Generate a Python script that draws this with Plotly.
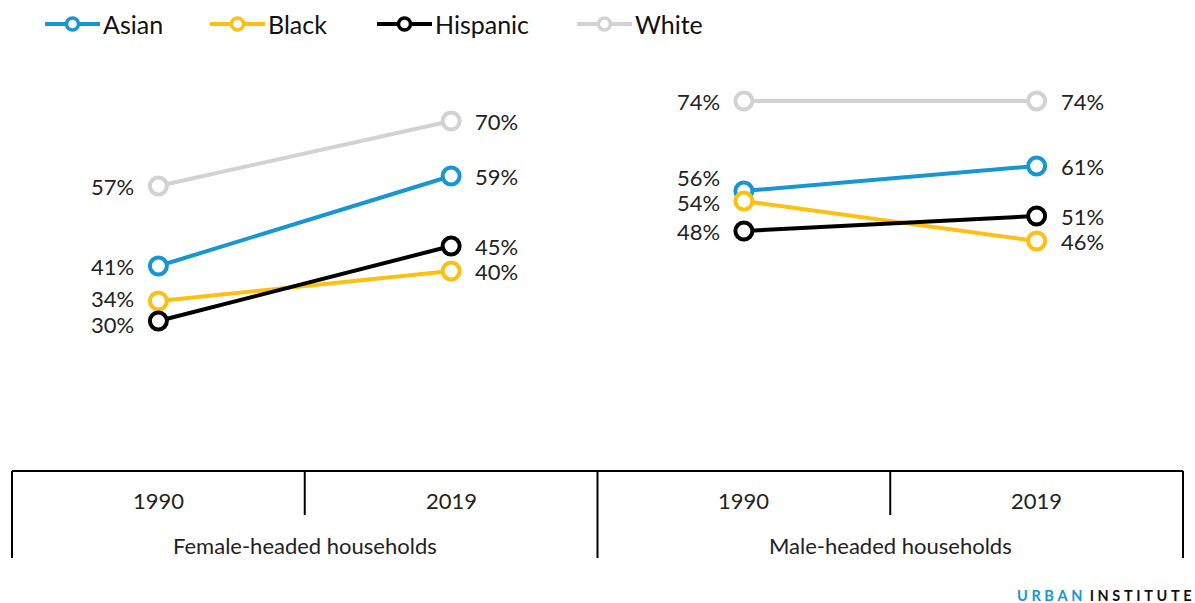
import plotly.graph_objects as go

# Share of households (percent) by race/ethnicity of householder
groups = ["Female-headed households", "Male-headed households"]
years = ["1990", "2019"]
series_names = ["Asian", "Black", "Hispanic", "White"]
colors = ["#1696d2", "#fdbf11", "#000000", "#d2d2d2"]

asian = [41, 59, 56, 61]      # female 1990, female 2019, male 1990, male 2019
black = [34, 40, 54, 46]
hispanic = [30, 45, 48, 51]
white = [57, 70, 74, 74]
values = [asian, black, hispanic, white]

# vertical nudges (px) for labels that would otherwise collide
label_nudge = {("Asian", 2): 14, ("Black", 2): -1, ("Black", 0): 3, ("Hispanic", 0): -3}

FONT = "Lato"
W, H = 1195, 603
ML, MR, MT, MB = 12, 12, 71, 132
PH = H - MT - MB
PW = W - ML - MR


def py(px_y):
    """page pixel y -> paper y"""
    return (H - MB - px_y) / PH


def pxx(px_x):
    """page pixel x -> paper x"""
    return (px_x - ML) / PW


fig = go.Figure()

for name, col, vals in zip(series_names, colors, values):
    xs = [0, 1, None, 2, 3]
    ys = [vals[0], vals[1], None, vals[2], vals[3]]
    fig.add_trace(go.Scatter(
        x=xs, y=ys, mode="lines+markers", name=name,
        line=dict(color=col, width=4),
        marker=dict(symbol="circle", size=17, color="white",
                    line=dict(color=col, width=4)),
        cliponaxis=False, showlegend=False, hoverinfo="skip",
    ))

annotations = []
for name, vals in zip(series_names, values):
    for i, v in enumerate(vals):
        left = i % 2 == 0
        annotations.append(dict(
            x=i, y=v, xref="x", yref="y", text=f"{v}%", showarrow=False,
            xanchor="right" if left else "left", yanchor="middle",
            xshift=-23 if left else 23, yshift=label_nudge.get((name, i), 0),
            borderpad=0,
            font=dict(family=FONT, size=22, color="#222222"),
        ))

shapes = []
# category axis frame
shapes.append(dict(type="line", xref="paper", yref="paper", x0=0, x1=1, y0=0, y1=0,
                   line=dict(color="black", width=2)))
for xp in [0, 0.5, 1]:
    shapes.append(dict(type="line", xref="paper", yref="paper", x0=xp, x1=xp,
                       y0=0, y1=py(558), line=dict(color="black", width=2)))
for xp in [0.25, 0.75]:
    shapes.append(dict(type="line", xref="paper", yref="paper", x0=xp, x1=xp,
                       y0=0, y1=py(515), line=dict(color="black", width=2)))

for gi, g in enumerate(groups):
    annotations.append(dict(x=0.25 + 0.5 * gi, y=py(545), xref="paper", yref="paper",
                            text=g, showarrow=False, xanchor="center", yanchor="middle",
                            font=dict(family=FONT, size=22, color="#222222")))
    for yi, yr in enumerate(years):
        annotations.append(dict(x=0.125 + 0.5 * gi + 0.25 * yi, y=py(500),
                                xref="paper", yref="paper", text=yr, showarrow=False,
                                xanchor="center", yanchor="middle",
                                font=dict(family=FONT, size=22, color="#222222")))

# legend row
legend_x = [45, 210, 377, 577]
leg_y = py(24)
for name, col, lx in zip(series_names, colors, legend_x):
    shapes.append(dict(type="line", xref="paper", yref="paper",
                       x0=pxx(lx), x1=pxx(lx + 55), y0=leg_y, y1=leg_y,
                       line=dict(color=col, width=4)))
    shapes.append(dict(type="circle", xref="paper", yref="paper",
                       xsizemode="pixel", ysizemode="pixel",
                       xanchor=pxx(lx + 27.5), yanchor=leg_y,
                       x0=-6, x1=6, y0=-6, y1=6,
                       fillcolor="white", line=dict(color=col, width=3.5)))
    annotations.append(dict(x=pxx(lx + 56), y=leg_y, xref="paper", yref="paper",
                            text=name, showarrow=False, xanchor="left", yanchor="middle",
                            font=dict(family=FONT, size=25, color="#111111")))

# branding
ts = "\u2009\u2009"
annotations.append(dict(
    x=pxx(1194), y=py(595), xref="paper", yref="paper", showarrow=False,
    xanchor="right", yanchor="middle",
    text=("<b><span style='color:#1696d2'>" + ts.join("URBAN") + "</span>\u2002"
          + ts.join("INSTITUTE") + "</b>"),
    font=dict(family=FONT, size=14.5, color="#111111"),
))

fig.update_layout(
    width=W, height=H,
    margin=dict(l=ML, r=MR, t=MT, b=MB),
    paper_bgcolor="white", plot_bgcolor="white",
    xaxis=dict(range=[-0.5, 3.5], visible=False, fixedrange=True),
    yaxis=dict(range=[0, 80], visible=False, fixedrange=True),
    shapes=shapes, annotations=annotations, showlegend=False,
)

fig.write_html("out.html")
